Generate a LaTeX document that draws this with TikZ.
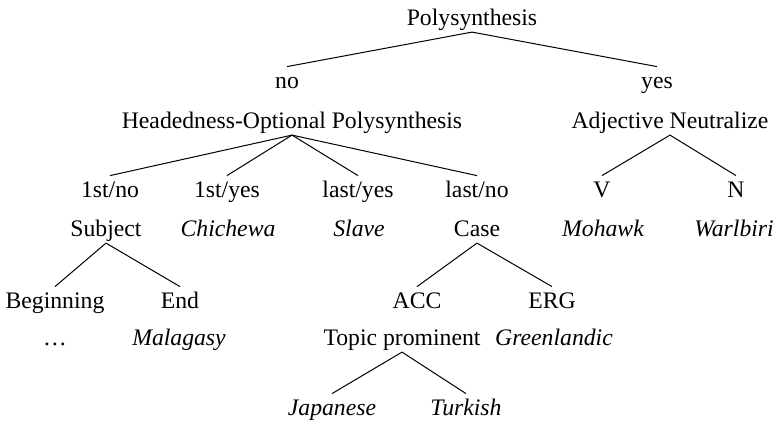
\documentclass[tikz,border=0pt]{standalone}
\usepackage{fontspec}
\setmainfont{Liberation Serif}
\usepackage{tikz}

\newcommand{\treefont}{\fontsize{23.7}{28}\selectfont}

\tikzset{
  lbl/.style={anchor=base, inner xsep=0pt, inner ysep=2.2pt, text height=19pt, text depth=4.7pt, font=\treefont},
  lang/.style={lbl, font=\treefont\itshape},
  branch/.style={line width=1pt}
}

\begin{document}
\begin{tikzpicture}[x=1pt, y=-1pt]
    \useasboundingbox (0,0) rectangle (776,424);
    % Raiz
    \node[lbl] (poly) at (472,25) {Polysynthesis};
    \node[lbl] (no) at (287,88) {no};
    \node[lbl] (yes) at (657,88) {yes};
    \draw[branch] (poly.south) -- (no.north);
    \draw[branch] (poly.south) -- (yes.north);
    % Ramo "no"
    \node[lbl] (hop) at (292,128) {Headedness-Optional Polysynthesis};
    \node[lbl] (fno) at (110,197) {1st/no};
    \node[lbl] (fyes) at (227,197) {1st/yes};
    \node[lbl] (lyes) at (358,197) {last/yes};
    \node[lbl] (lno) at (477,197) {last/no};
    \draw[branch] (hop.south) -- (fno.north);
    \draw[branch] (hop.south) -- (fyes.north);
    \draw[branch] (hop.south) -- (lyes.north);
    \draw[branch] (hop.south) -- (lno.north);
    % Ramo "yes"
    \node[lbl] (adj) at (670,128) {Adjective Neutralize};
    \node[lbl] (v) at (602,197) {V};
    \node[lbl] (n) at (736,197) {N};
    \draw[branch] (adj.south) -- (v.north);
    \draw[branch] (adj.south) -- (n.north);
    \node[lang] (mohawk) at (603,236) {Mohawk};
    \node[lang] (warlbiri) at (734,236) {Warlbiri};
    % Linha das línguas
    \node[lbl] (subj) at (106,236) {Subject};
    \node[lang] (chichewa) at (228,236) {Chichewa};
    \node[lang] (slave) at (359,236) {Slave};
    \node[lbl] (case) at (477,236) {Case};
    % Subject
    \node[lbl] (beg) at (55,308) {Beginning};
    \node[lbl] (end) at (180,308) {End};
    \draw[branch] (subj.south) -- (beg.north);
    \draw[branch] (subj.south) -- (end.north);
    \node[lbl] (dots) at (55,345) {\dots};
    \node[lang] (malagasy) at (179,345) {Malagasy};
    % Case
    \node[lbl] (acc) at (417,308) {ACC};
    \node[lbl] (erg) at (552,308) {ERG};
    \draw[branch] (case.south) -- (acc.north);
    \draw[branch] (case.south) -- (erg.north);
    \node[lbl] (topic) at (402,345) {Topic prominent};
    \node[lang] (greenl) at (554,345) {Greenlandic};
    % Topic prominent
    \node[lang] (jap) at (332,415) {Japanese};
    \node[lang] (turk) at (466,415) {Turkish};
    \draw[branch] (topic.south) -- (jap.north);
    \draw[branch] (topic.south) -- (turk.north);
\end{tikzpicture}
\end{document}
